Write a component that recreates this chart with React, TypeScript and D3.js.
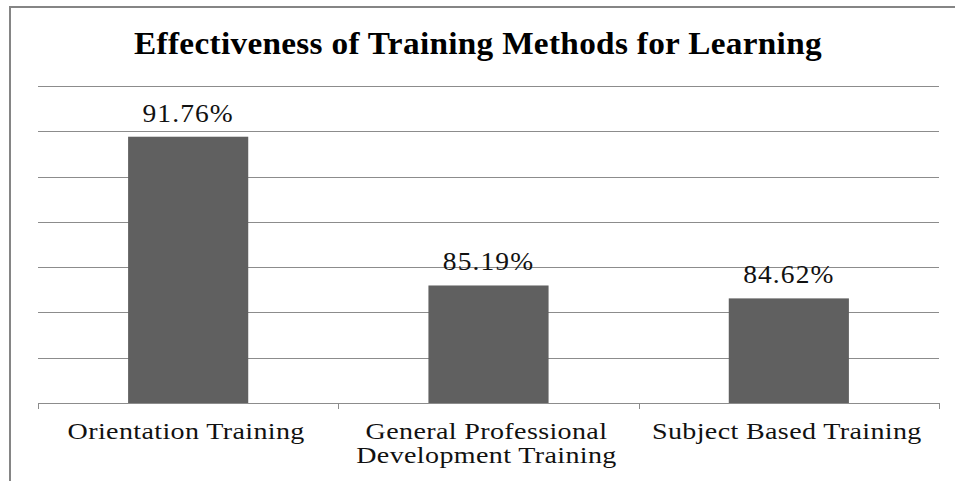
import { useEffect, useRef } from 'react';
import * as d3 from 'd3';

const categories = ['Orientation Training', 'General Professional\nDevelopment Training', 'Subject Based Training'];
const values = [91.76, 85.19, 84.62];
const yTicks = [80, 82, 84, 86, 88, 90, 92, 94];
const title = 'Effectiveness of Training Methods for Learning';

const serif = 'Liberation Serif, Times New Roman, serif';

export default function App() {
  const svgRef = useRef<SVGSVGElement>(null);

  useEffect(() => {
    if (!svgRef.current) return;
    const width = 955;
    const height = 481;
    const margin = { top: 86, right: 16, bottom: 78, left: 38 };

    const svg = d3.select(svgRef.current);
    svg.selectAll('*').remove();

    // stretch text horizontally around its anchor x (the original render is wide)
    const stretch = (k: number) => function (this: any) {
      const cx = +this.getAttribute('x');
      return `translate(${cx},0) scale(${k},1) translate(${-cx},0)`;
    };

    // outer chart border (cropped at right and bottom)
    svg.append('rect')
      .attr('x', 10)
      .attr('y', 7)
      .attr('width', 970)
      .attr('height', 500)
      .attr('fill', 'white')
      .attr('stroke', '#858585')
      .attr('stroke-width', 2);

    const x = d3.scaleBand<string>()
      .domain(categories)
      .range([margin.left, width - margin.right])
      .paddingInner(0.6)
      .paddingOuter(0.3);

    const y = d3.scaleLinear()
      .domain([80, 94])
      .range([height - margin.bottom, margin.top]);

    // gridlines
    svg.append('g')
      .selectAll('line')
      .data(yTicks)
      .enter()
      .append('line')
      .attr('x1', margin.left)
      .attr('x2', width - margin.right)
      .attr('y1', d => Math.round(y(d)) + 0.5)
      .attr('y2', d => Math.round(y(d)) + 0.5)
      .attr('stroke', '#8c8c8c')
      .attr('stroke-width', 1);

    // category tick marks
    const step = x.step();
    const bounds = d3.range(categories.length + 1).map(i => margin.left + i * step);
    svg.append('g')
      .selectAll('line')
      .data(bounds)
      .enter()
      .append('line')
      .attr('x1', d => Math.round(d) + 0.5)
      .attr('x2', d => Math.round(d) + 0.5)
      .attr('y1', Math.round(y(80)))
      .attr('y2', Math.round(y(80)) + 6)
      .attr('stroke', '#8c8c8c');

    // bars
    svg.append('g')
      .selectAll('rect')
      .data(values)
      .enter()
      .append('rect')
      .attr('x', (d, i) => x(categories[i])!)
      .attr('y', d => y(d))
      .attr('width', x.bandwidth())
      .attr('height', d => y(80) - y(d))
      .attr('fill', '#606060');

    // value labels
    svg.append('g')
      .selectAll('text')
      .data(values)
      .enter()
      .append('text')
      .attr('x', (d, i) => x(categories[i])! + x.bandwidth() / 2)
      .attr('y', d => y(d) - 15)
      .attr('text-anchor', 'middle')
      .attr('font-family', serif)
      .attr('font-size', 25)
      .attr('letter-spacing', 1)
      .attr('fill', '#111')
      .attr('transform', stretch(1.1))
      .text(d => d.toFixed(2) + '%');

    // category labels
    const labels = svg.append('g')
      .selectAll('text')
      .data(categories)
      .enter()
      .append('text')
      .attr('x', d => x(d)! + x.bandwidth() / 2 - 2)
      .attr('y', 439)
      .attr('text-anchor', 'middle')
      .attr('font-family', serif)
      .attr('font-size', 23)
      .attr('letter-spacing', 0.3)
      .attr('fill', '#111')
      .attr('transform', stretch(1.22));
    labels.selectAll('tspan')
      .data(d => d.split('\n'))
      .enter()
      .append('tspan')
      .attr('x', function () {
        return (this as any).parentNode.getAttribute('x');
      })
      .attr('dy', (d, i) => (i === 0 ? 0 : 24))
      .text(d => d);

    // title
    svg.append('text')
      .attr('x', 478)
      .attr('y', 54)
      .attr('text-anchor', 'middle')
      .attr('font-family', serif)
      .attr('font-weight', 'bold')
      .attr('font-size', 32)
      .attr('letter-spacing', 0.3)
      .attr('fill', '#000')
      .attr('transform', stretch(1.04))
      .text(title);
  }, []);

  return (
    <svg
      ref={svgRef}
      width={955}
      height={481}
      style={{ position: 'absolute', left: 0, top: 0, background: 'white' }}
    />
  );
}
